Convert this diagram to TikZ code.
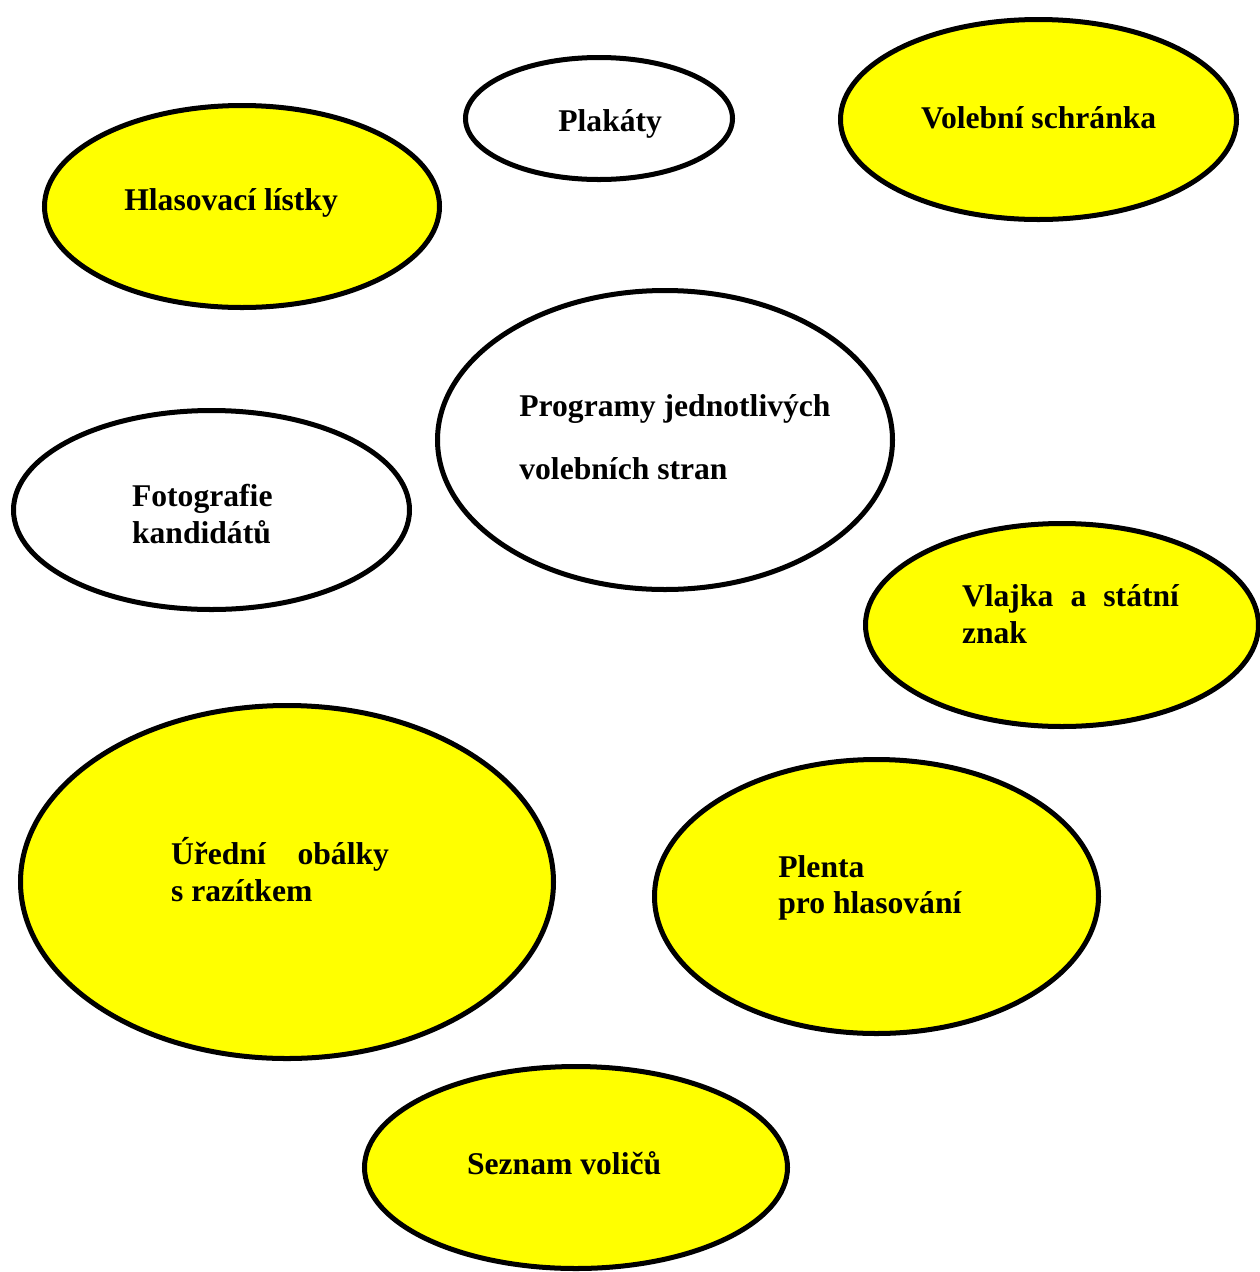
\documentclass[tikz,border=0pt]{standalone}
\usepackage{fontspec}
\setmainfont{Liberation Serif}
\usetikzlibrary{shapes, positioning}
\definecolor{ballotyellow}{RGB}{255,255,0}

\begin{document}
\begin{tikzpicture}[x=0.02cm, y=-0.02cm,
    ell/.style={ellipse, draw=black, line width=2.85pt, inner sep=0pt},
    yel/.style={ell, fill=ballotyellow},
    wht/.style={ell, fill=white},
    txt/.style={anchor=base west, inner sep=0pt, font=\fontsize{18pt}{21pt}\selectfont\bfseries},
    par/.style={txt, align=flush left, text width=#1}]

\useasboundingbox (0,0) rectangle (1259,1272); % page size as in the reference

% the ellipses
\node (plakaty)[wht, minimum width=267*0.02cm, minimum height=122*0.02cm] at (599,118.5) {};
\node (schranka)[yel, minimum width=396*0.02cm, minimum height=200*0.02cm] at (1038.5,119.5) {};
\node (listky)[yel, minimum width=395*0.02cm, minimum height=202*0.02cm] at (242,206.5) {};
\node (programy)[wht, minimum width=455*0.02cm, minimum height=299*0.02cm] at (665,440) {};
\node (foto)[wht, minimum width=396*0.02cm, minimum height=199*0.02cm] at (211.5,510) {};
\node (vlajka)[yel, minimum width=393*0.02cm, minimum height=203*0.02cm] at (1062,625) {};
\node (obalky)[yel, minimum width=533*0.02cm, minimum height=353*0.02cm] at (287,882) {};
\node (plenta)[yel, minimum width=444*0.02cm, minimum height=274*0.02cm] at (876.5,896.5) {};
\node (seznam)[yel, minimum width=423*0.02cm, minimum height=202*0.02cm] at (576,1167.5) {};

% the texts
\node (plakatyT)[txt] at (558,131.7) {Plakáty};
\node (schrankaT)[txt] at (920.7,128.3) {Volební schránka};
\node (listkyT)[txt] at (124,210) {Hlasovací lístky};
\node (programyT)[par=8cm] at (519,416.7) {Programy jednotlivých\\[14.6pt]volebních stran};
\node (fotoT)[par=5cm] at (131.7,506.7) {Fotografie\\kandidátů};
\node (vlajkaT)[par=4.34cm] at (961.7,606.7) {\hbox to \linewidth{Vlajka\hfill a\hfill státní}\\znak};
\node (obalkyT)[par=4.36cm] at (170.7,864.3) {\hbox to \linewidth{Úřední\hfill obálky}\\s razítkem};
\node (plentaT)[par=5cm] at (778,877) {Plenta\\pro hlasování};
\node (seznamT)[txt] at (466.7,1174) {Seznam voličů};

\end{tikzpicture}
\end{document}
